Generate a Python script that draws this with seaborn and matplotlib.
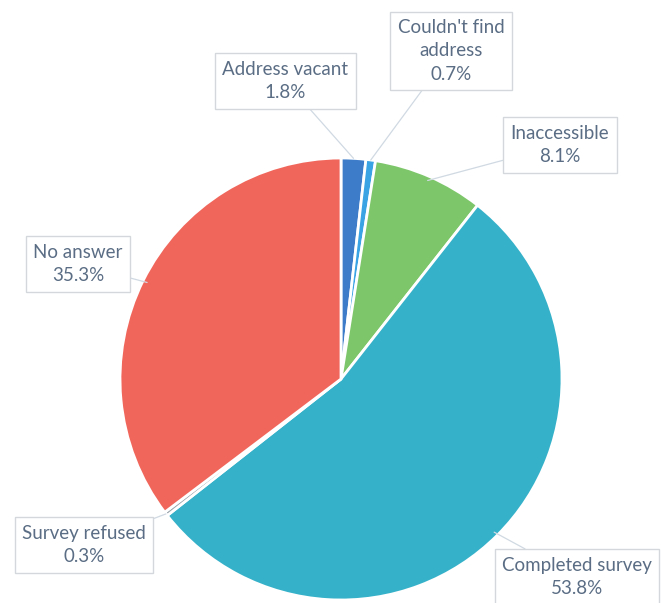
import numpy as np
import matplotlib
matplotlib.use("Agg")
import matplotlib.pyplot as plt
import seaborn as sns

# data
labels = ["Address vacant", "Couldn't find\naddress", "Inaccessible",
          "Completed survey", "Survey refused", "No answer"]
shares = [1.8, 0.7, 8.1, 53.8, 0.3, 35.3]
colors = ["#3d7cc9", "#3aa3e3", "#7dc66a", "#35b1c9", "#9aa5ad", "#f1665b"]

sns.set_theme(style="white")
plt.rcParams["font.family"] = ["Lato", "DejaVu Sans"]

W, H = 666, 603
cx, cy, r = 341, 379, 221  # pie centre / radius in pixels

fig = plt.figure(figsize=(W / 100, H / 100), dpi=100)
ax = fig.add_axes([0, 0, 1, 1])

wedges, _ = ax.pie(shares, colors=colors, startangle=90, counterclock=False,
                   radius=1, wedgeprops=dict(edgecolor="white", linewidth=2))

ax.set_aspect("auto")
ax.set_xlim(-cx / r, (W - cx) / r)
ax.set_ylim(-(H - cy) / r, cy / r)
ax.axis("off")

# label box centres (pixels)
box_px = [(285, 81), (451, 51), (560, 145), (577, 577), (84, 545), (78, 264)]

def to_data(px, py):
    return (px - cx) / r, (cy - py) / r

for w, lab, val, (px, py) in zip(wedges, labels, shares, box_px):
    ang = np.deg2rad((w.theta1 + w.theta2) / 2)
    rr = 0.98 if val > 5 else 1.0
    tip = (rr * np.cos(ang), rr * np.sin(ang))
    ax.annotate(f"{lab}\n{val:.1f}%", xy=tip, xytext=to_data(px, py),
                ha="center", va="center", fontsize=13.5, color="#5a6d84",
                linespacing=1.45,
                bbox=dict(boxstyle="square,pad=0.4", fc="white", ec="#d4d8dc", lw=1),
                arrowprops=dict(arrowstyle="-", color="#d0d9e2", lw=0.9,
                                shrinkA=0, shrinkB=0))

fig.savefig("out.png", dpi=100)
